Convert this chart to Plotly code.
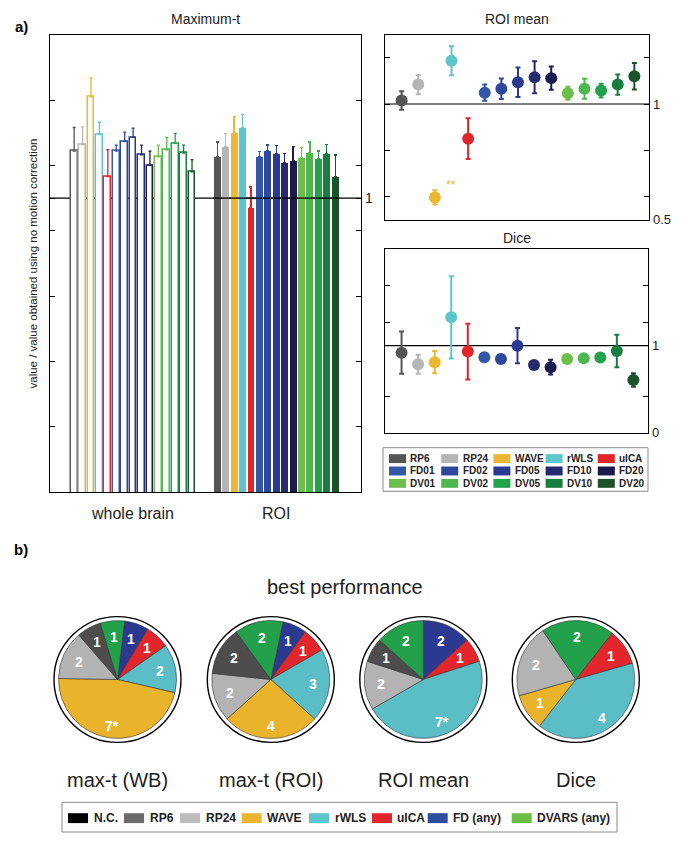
import math
import plotly.graph_objects as go

W, H = 694, 842
FONT = "Liberation Sans, Arial, Helvetica, sans-serif"


def px(x):
    return x / W


def py(y):
    return 1 - y / H


# ---------------- data ----------------
methods = ["RP6", "RP24", "WAVE", "rWLS", "uICA",
           "FD01", "FD02", "FD05", "FD10", "FD20",
           "DV01", "DV02", "DV05", "DV10", "DV20"]
colors = ["#555555", "#b5b5b5", "#ecb731", "#5cc6cc", "#e2242b",
          "#3157a5", "#2d479c", "#2a3a90", "#262a6e", "#1b1a4f",
          "#6fbe4b", "#4db84e", "#22a24b", "#177e3f", "#1c5229"]

# Maximum-t, whole brain (open bars) and ROI (filled bars)
wb_val = [1.072, 1.082, 1.155, 1.097, 1.033, 1.072, 1.087, 1.093, 1.066, 1.050,
          1.063, 1.074, 1.084, 1.069, 1.040]
wb_err = [0.036, 0.027, 0.029, 0.019, 0.041, 0.009, 0.014, 0.014, 0.015, 0.022,
          0.018, 0.019, 0.015, 0.012, 0.019]
roi_val = [1.063, 1.078, 1.100, 1.108, 0.986, 1.064, 1.072, 1.068, 1.054, 1.057,
           1.062, 1.069, 1.060, 1.068, 1.033]
roi_err = [0.023, 0.021, 0.025, 0.020, 0.031, 0.007, 0.009, 0.012, 0.014, 0.022,
           0.015, 0.017, 0.012, 0.014, 0.033]
group_labels = ["whole brain", "ROI"]

# ROI mean
roimean_val = [1.015, 1.084, 0.596, 1.187, 0.850, 1.049, 1.066, 1.094, 1.116, 1.112,
               1.047, 1.066, 1.058, 1.084, 1.120]
roimean_err = [0.040, 0.042, 0.031, 0.063, 0.088, 0.035, 0.044, 0.064, 0.069, 0.050,
               0.028, 0.043, 0.030, 0.044, 0.057]

# Dice
dice_val = [0.920, 0.787, 0.810, 1.327, 0.932, 0.867, 0.848, 1.000, 0.779, 0.753,
            0.848, 0.856, 0.863, 0.939, 0.605]
dice_err = [0.243, 0.110, 0.128, 0.473, 0.320, 0.0, 0.0, 0.203, 0.0, 0.085,
            0.0, 0.0, 0.0, 0.186, 0.078]

# best performance pies (clockwise order)
pie_titles = ["max-t (WB)", "max-t (ROI)", "ROI mean", "Dice"]
pie_labels = [
    ["FD (any)", "uICA", "rWLS", "WAVE", "RP24", "RP6", "DVARS (any)"],
    ["FD (any)", "uICA", "rWLS", "WAVE", "RP24", "RP6", "DVARS (any)"],
    ["FD (any)", "uICA", "rWLS", "RP24", "RP6", "DVARS (any)"],
    ["uICA", "rWLS", "WAVE", "RP24", "DVARS (any)"],
]
pie_counts = [
    [1, 1, 2, 7, 2, 1, 1],
    [1, 1, 3, 4, 2, 2, 2],
    [2, 1, 7, 2, 1, 2],
    [1, 4, 1, 2, 2],
]
pie_text = [
    ["1", "1", "2", "7*", "2", "1", "1"],
    ["1", "1", "3", "4", "2", "2", "2"],
    ["2", "1", "7*", "2", "1", "2"],
    ["1", "4", "1", "2", "2"],
]
pie_rotation = [7, 12, 0, 38]
pie_colors = {"N.C.": "#000000", "RP6": "#4d4d4d", "RP24": "#b3b3b3", "WAVE": "#e9b32c",
              "rWLS": "#5bbec6", "uICA": "#e2262c", "FD (any)": "#2b3990",
              "DVARS (any)": "#23a14a"}
legend_b_names = ["N.C.", "RP6", "RP24", "WAVE", "rWLS", "uICA", "FD (any)", "DVARS (any)"]
legend_b_colors = ["#000000", "#6b6b6b", "#bcbcbc", "#ebb52f", "#5cc4ca", "#e3262d",
                   "#2f4d9e", "#6bbd47"]

fig = go.Figure()

# ---------------- bars (Maximum-t) ----------------
n = len(methods)
wb_pos = [i + 1 for i in range(n)]
roi_pos = [p + n + 2 for p in wb_pos]

for i in range(n):
    fig.add_trace(go.Bar(
        x=[wb_pos[i]], y=[wb_val[i]], width=0.8,
        marker=dict(color="white", line=dict(color=colors[i], width=1.5)),
        error_y=dict(type="data", array=[wb_err[i]], arrayminus=[0], symmetric=False,
                     color=colors[i], thickness=1.3, width=1.5),
        showlegend=False, hoverinfo="skip", xaxis="x", yaxis="y"))
    fig.add_trace(go.Bar(
        x=[roi_pos[i]], y=[roi_val[i]], width=0.82,
        marker=dict(color=colors[i], line=dict(width=0)),
        error_y=dict(type="data", array=[roi_err[i]], arrayminus=[0], symmetric=False,
                     color=colors[i], thickness=1.3, width=1.5),
        showlegend=False, hoverinfo="skip", xaxis="x", yaxis="y"))

# ---------------- ROI mean & Dice points ----------------
pt_x = [i + 1 for i in range(n)]
for i in range(n):
    fig.add_trace(go.Scatter(
        x=[pt_x[i]], y=[roimean_val[i]], mode="markers",
        marker=dict(size=12, color=colors[i]),
        error_y=dict(type="data", array=[roimean_err[i]], color=colors[i],
                     thickness=2, width=2.5),
        showlegend=False, hoverinfo="skip", xaxis="x2", yaxis="y2"))
    fig.add_trace(go.Scatter(
        x=[pt_x[i]], y=[dice_val[i]], mode="markers",
        marker=dict(size=12, color=colors[i]),
        error_y=dict(type="data", array=[dice_err[i]], color=colors[i],
                     thickness=2, width=2.5, visible=dice_err[i] > 0),
        showlegend=False, hoverinfo="skip", xaxis="x3", yaxis="y3"))

# ---------------- pies ----------------
pie_cx = [117.5, 270.8, 423.3, 575.8]
pie_cy = 686
pie_r = 59.5
ring_r = 63.5
for k in range(len(pie_titles)):
    cx = pie_cx[k]
    fig.add_trace(go.Pie(
        values=pie_counts[k], labels=pie_labels[k],
        textinfo="none",
        direction="clockwise", sort=False, rotation=pie_rotation[k],
        marker=dict(colors=[pie_colors[l] for l in pie_labels[k]],
                    line=dict(color="#333333", width=0.6)),
        domain=dict(x=[px(cx - pie_r), px(cx + pie_r)],
                    y=[py(pie_cy + pie_r), py(pie_cy - pie_r)]),
        showlegend=False, hoverinfo="skip"))

shapes = []
annotations = []

# slice labels, ring around pies and pie titles
for k in range(len(pie_titles)):
    cx = pie_cx[k]
    total = sum(pie_counts[k])
    cum = 0
    for j, v in enumerate(pie_counts[k]):
        mid = math.radians(pie_rotation[k] + (cum + v / 2) / total * 360)
        cum += v
        rr = pie_r * (0.79 if v / total >= 0.25 else 0.72)
        annotations.append(dict(text="<b>%s</b>" % pie_text[k][j],
                                x=px(cx + rr * math.sin(mid)), y=py(pie_cy - rr * math.cos(mid)),
                                xref="paper", yref="paper", showarrow=False,
                                xanchor="center", yanchor="middle",
                                font=dict(size=14, color="white", family=FONT)))
    shapes.append(dict(type="circle", xref="paper", yref="paper",
                       x0=px(cx - ring_r), x1=px(cx + ring_r),
                       y0=py(pie_cy + ring_r), y1=py(pie_cy - ring_r),
                       line=dict(color="black", width=1.4)))
    annotations.append(dict(text=pie_titles[k], x=px(cx), y=py(787), xref="paper", yref="paper",
                            showarrow=False, xanchor="center", yanchor="middle",
                            font=dict(size=20, color="#222", family=FONT)))

# reference lines at 1
shapes.append(dict(type="line", xref="x domain", yref="y", x0=0, x1=1, y0=1, y1=1,
                   line=dict(color="black", width=1.2), layer="below"))
shapes.append(dict(type="line", xref="x", yref="y", x0=roi_pos[0] - 0.5, x1=roi_pos[-1] + 0.5,
                   y0=1, y1=1, line=dict(color="black", width=1.2)))
shapes.append(dict(type="line", xref="x2 domain", yref="y2", x0=0, x1=1, y0=1, y1=1,
                   line=dict(color="black", width=1.2), layer="below"))
shapes.append(dict(type="line", xref="x3 domain", yref="y3", x0=0, x1=1, y0=1, y1=1,
                   line=dict(color="black", width=1.2), layer="below"))

# legend a)
la_box = (383, 452, 648, 496)
shapes.append(dict(type="rect", xref="paper", yref="paper",
                   x0=px(la_box[0]), x1=px(la_box[2]), y0=py(la_box[3]), y1=py(la_box[1]),
                   line=dict(color="#8a8a8a", width=1), fillcolor="rgba(0,0,0,0)"))
for k, m in enumerate(methods):
    row, col = k // 5, k % 5
    x0 = 389 + col * 52.2
    yc = 463 + row * 12.5
    shapes.append(dict(type="rect", xref="paper", yref="paper",
                       x0=px(x0), x1=px(x0 + 17), y0=py(yc + 4.5), y1=py(yc - 4.5),
                       line=dict(width=0), fillcolor=colors[k]))
    annotations.append(dict(text="<b>" + m + "</b>", x=px(x0 + 19.5), y=py(yc), xref="paper",
                            yref="paper", showarrow=False, xanchor="left", yanchor="middle",
                            font=dict(size=10, color="#222", family=FONT)))

# legend b)
lb_box = (62, 810, 617, 840)
shapes.append(dict(type="rect", xref="paper", yref="paper",
                   x0=px(lb_box[0]), x1=px(lb_box[2]), y0=py(lb_box[3]), y1=py(lb_box[1]),
                   line=dict(color="#8a8a8a", width=1), fillcolor="rgba(0,0,0,0)"))
lb_swatch_x = [68, 124, 180, 241.7, 309, 372, 427.7, 511.7]
for k, name in enumerate(legend_b_names):
    x0 = lb_swatch_x[k]
    yc = 826
    shapes.append(dict(type="rect", xref="paper", yref="paper",
                       x0=px(x0), x1=px(x0 + 20), y0=py(yc + 5), y1=py(yc - 5),
                       line=dict(width=0), fillcolor=legend_b_colors[k]))
    annotations.append(dict(text="<b>" + name + "</b>", x=px(x0 + 23.5), y=py(yc), xref="paper",
                            yref="paper", showarrow=False, xanchor="left", yanchor="middle",
                            font=dict(size=12, color="#222", family=FONT)))


# text annotations
def add_text(t, x, y, size, bold=False, angle=0, color="#222"):
    annotations.append(dict(text=("<b>%s</b>" % t) if bold else t, x=px(x), y=py(y),
                            xref="paper", yref="paper", showarrow=False,
                            xanchor="center", yanchor="middle", textangle=angle,
                            font=dict(size=size, color=color, family=FONT)))


add_text("a)", 21, 27, 15, bold=True, color="black")
add_text("b)", 21, 555, 15, bold=True, color="black")
add_text("Maximum-t", 205.5, 19, 14)
add_text("ROI mean", 517, 19, 14)
add_text("Dice", 517, 240, 14)
add_text("value / value obtained using no motion correction", 33, 266, 11.5, angle=-90)
add_text(group_labels[0], 132, 518, 16)
add_text(group_labels[1], 276, 518, 16)
add_text("best performance", 344.5, 593, 20)
annotations.append(dict(text="**", x=4.0, y=0.65, xref="x2", yref="y2", showarrow=False,
                        xanchor="center", yanchor="middle",
                        font=dict(size=12, color="#ecb731", family=FONT)))

axis_common = dict(showline=True, linecolor="black", linewidth=1.2, showgrid=False,
                   zeroline=False)

fig.update_layout(
    width=W, height=H, autosize=False,
    margin=dict(l=0, r=0, t=0, b=0),
    paper_bgcolor="white", plot_bgcolor="white",
    barmode="overlay", bargap=0,
    font=dict(family=FONT, color="#222"),
    shapes=shapes, annotations=annotations,
    xaxis=dict(domain=[px(50), px(361)], range=[-1.87, 35.07], anchor="y",
               showticklabels=False, ticks="", mirror=True, **axis_common),
    yaxis=dict(domain=[py(497), py(35)], range=[0.55, 1.25], anchor="x", side="right",
               tickvals=[0.65, 0.75, 0.85, 0.95, 1.0, 1.05, 1.15],
               ticktext=["", "", "", "", "1", "", ""],
               ticks="inside", ticklen=5, tickcolor="black", mirror="ticks",
               tickfont=dict(size=14, color="#222"), **axis_common),
    xaxis2=dict(domain=[px(385), px(649.3)], range=[0, 15.9], anchor="y2",
                showticklabels=False, ticks="", mirror=True, **axis_common),
    yaxis2=dict(domain=[py(221.7), py(35)], range=[0.5, 1.3], anchor="x2", side="right",
                tickvals=[0.5, 0.6, 0.8, 1.0, 1.2], ticktext=["0.5", "", "", "1", ""],
                ticks="inside", ticklen=5, tickcolor="black", mirror="ticks",
                tickfont=dict(size=13, color="#222"), **axis_common),
    xaxis3=dict(domain=[px(385), px(648.3)], range=[0, 15.9], anchor="y3",
                showticklabels=False, ticks="", mirror=True, **axis_common),
    yaxis3=dict(domain=[py(436.7), py(251.7)], range=[0, 2.11], anchor="x3", side="right",
                tickvals=[0, 0.42, 1.0, 1.27, 1.69], ticktext=["0", "", "1", "", ""],
                ticks="inside", ticklen=5, tickcolor="black", mirror="ticks",
                tickfont=dict(size=13, color="#222"), **axis_common),
)

fig.write_html("out.html", config={"displayModeBar": False},
               post_script="document.body.style.margin='0px';document.body.style.overflow='hidden';")
